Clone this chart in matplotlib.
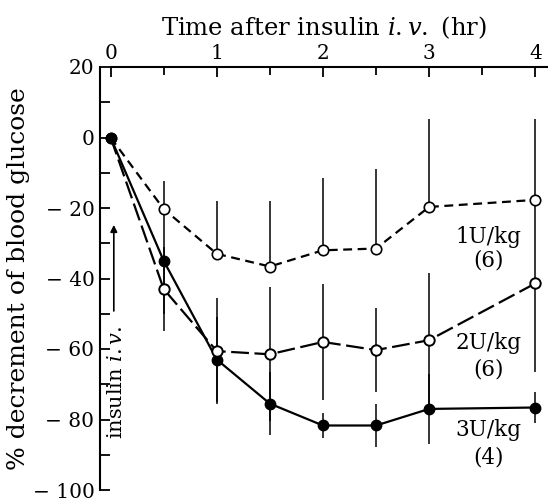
import matplotlib
matplotlib.use('Agg')
import matplotlib.pyplot as plt
from matplotlib.ticker import MultipleLocator, FixedLocator

plt.rcParams['font.family'] = ['DejaVu Serif']
plt.rcParams['mathtext.fontset'] = 'custom'
plt.rcParams['mathtext.rm'] = 'DejaVu Serif'
plt.rcParams['mathtext.it'] = 'DejaVu Serif:italic'

# ---- data ----
time_hr = [0, 0.5, 1, 1.5, 2, 2.5, 3, 4]
dec_1u = [0, -20.3, -33, -36.6, -32, -31.5, -19.7, -17.7]
err_1u = [0, 8, 15, 18.5, 20.5, 22.5, 25, 23]
dec_2u = [0, -43, -60.6, -61.5, -58, -60.3, -57.5, -41.4]
err_2u = [0, 12, 15, 19, 16.5, 12, 19, 25]
dec_3u = [0, -35, -63, -75.5, -81.7, -81.7, -77, -76.6]
err_3u = [0, 15, 12, 9, 3.5, 6, 10, 4.5]
y_ticks = [20, 0, -20, -40, -60, -80, -100]
y_tick_labels = ['20', '0', '\u2212 20', '\u2212 40', '\u2212 60', '\u2212 80', '\u2212 100']
x_ticks = [0, 1, 2, 3, 4]
series_labels = [('1U/kg', '(6)'), ('2U/kg', '(6)'), ('3U/kg', '(4)')]

fig = plt.figure(figsize=(5.48, 5.0), dpi=100)
ax = fig.add_axes([0.1825, 0.02, 0.8175, 0.846])
ax.set_xlim(-0.1, 4.12)
ax.set_ylim(-100, 20)

lw = 1.6
ms = 7.5
# error bars
ax.errorbar(time_hr[1:], dec_1u[1:], yerr=[[0]*7, err_1u[1:]], fmt='none',
            ecolor='black', elinewidth=1.1, capsize=0, zorder=1)
ax.errorbar(time_hr[1:], dec_2u[1:], yerr=err_2u[1:], fmt='none',
            ecolor='black', elinewidth=1.1, capsize=0, zorder=1)
ax.errorbar(time_hr[1:], dec_3u[1:], yerr=err_3u[1:], fmt='none',
            ecolor='black', elinewidth=1.1, capsize=0, zorder=1)

# lines
ax.plot(time_hr, dec_3u, color='black', lw=lw, ls='-', marker='o', ms=ms,
        mfc='black', mec='black', zorder=3)
ax.plot(time_hr, dec_2u, color='black', lw=lw, ls=(0, (8, 2.5)), marker='o', ms=ms,
        mfc='white', mec='black', mew=1.4, markevery=slice(1, None), zorder=3)
ax.plot(time_hr, dec_1u, color='black', lw=lw, ls=(0, (4, 2.5)), marker='o', ms=ms,
        mfc='white', mec='black', mew=1.2, markevery=slice(1, None), zorder=3)
ax.plot(time_hr[0], dec_3u[0], 'o', color='black', ms=ms, zorder=4)

# series labels
lab_pos = [(-28.2, -35.0), (-58.3, -65.8), (-83.0, -90.7)]
for (l1, l2), (y1, y2) in zip(series_labels, lab_pos):
    ax.text(3.56, y1, l1, ha='center', va='center', fontsize=15.5)
    ax.text(3.56, y2, l2, ha='center', va='center', fontsize=15.5)

# insulin arrow and text
ax.annotate('', xy=(0.03, -24), xytext=(0.03, -50),
            arrowprops=dict(arrowstyle='-|>', color='black', lw=1.2,
                            mutation_scale=10))
ax.text(0.055, -69.5, 'insulin $i.v.$', rotation=90, ha='center', va='center',
        fontsize=15)

# axes styling
for s in ['right', 'bottom']:
    ax.spines[s].set_visible(False)
ax.spines['left'].set_linewidth(1.5)
ax.spines['top'].set_linewidth(1.5)
ax.spines['top'].set_bounds(0, 4.12)

ax.xaxis.tick_top()
ax.xaxis.set_label_position('top')
ax.set_xticks(x_ticks)
ax.set_xticklabels([str(v) for v in x_ticks])
ax.xaxis.set_minor_locator(FixedLocator([0.5, 1.5, 2.5, 3.5]))
ax.tick_params(axis='x', which='both', direction='in', top=True, bottom=False,
               labelsize=14.5, pad=3, width=1.3)
ax.tick_params(axis='x', which='major', length=7)
ax.tick_params(axis='x', which='minor', length=6)

ax.set_yticks(y_ticks)
ax.set_yticklabels(y_tick_labels)
ax.yaxis.set_minor_locator(MultipleLocator(10))
ax.tick_params(axis='y', which='both', direction='in', left=True, right=False,
               labelsize=14.5, pad=4, width=1.3)
ax.tick_params(axis='y', which='major', length=7)
ax.tick_params(axis='y', which='minor', length=7)

ax.set_xlabel('Time after insulin $i.v.$ (hr)', fontsize=17.5, labelpad=6)
ax.set_ylabel('% decrement of blood glucose', fontsize=18, labelpad=2)

fig.savefig('out.png', dpi=100)
